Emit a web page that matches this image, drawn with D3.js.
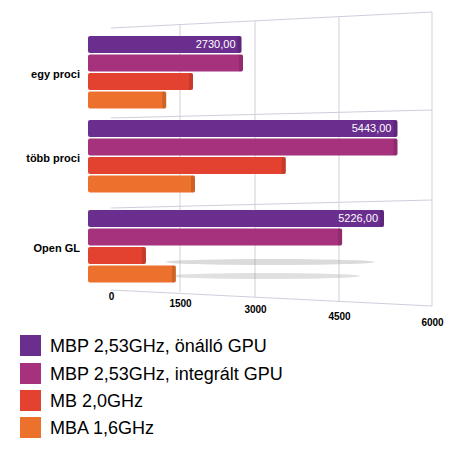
<!DOCTYPE html>
<html><head><meta charset="utf-8">
<script src="https://cdn.jsdelivr.net/npm/d3@7/dist/d3.min.js"></script>
<style>body{margin:0;background:#fff}text{font-family:"Liberation Sans",Arial,sans-serif}</style>
</head><body>
<svg id="c" width="459" height="449"></svg>
<script>
// Data
const categories = ['egy proci', 'több proci', 'Open GL'];
const series = ['MBP 2,53GHz, önálló GPU', 'MBP 2,53GHz, integrált GPU', 'MB 2,0GHz', 'MBA 1,6GHz'];
const values = [
    [2730, 5443, 5226],
    [2760, 5443, 4550],
    [1760, 3550, 760],
    [1200, 1800, 1410]
];
const ticks = [0, 1500, 3000, 4500, 6000];
const colors = ['#6a2e8e', '#a6317d', '#e2422f', '#ec712c'];

const svg = d3.select('#c');
// perspective-ish scale: gridlines spread out to the right
const x = d3.scaleLinear().domain(ticks).range([111, 180, 255, 339, 432]);
const barStart = 88;
const groupTop = [36, 120, 210];
const barH = 17, barStep = 18.5;

// grid plane
const grid = svg.append('g').attr('stroke', '#cfcfdc').attr('fill', 'none');
grid.append('path').attr('d', 'M111,28 L432,12 L432,306 L111,290');
grid.selectAll('line.h').data([118, 208]).enter().append('line')
    .attr('x1', 111).attr('x2', 432).attr('y1', d => d).attr('y2', d => d - 8);
grid.selectAll('line.v').data(ticks.slice(1, 4)).enter().append('line')
    .attr('x1', d => x(d)).attr('x2', d => x(d))
    .attr('y1', (d, i) => 25 - i * 4).attr('y2', (d, i) => 292 + i * 5);

// shadow under Open GL
svg.append('ellipse').attr('cx', 270).attr('cy', 262).attr('rx', 105).attr('ry', 3)
    .attr('fill', '#999').attr('opacity', 0.35);
svg.append('ellipse').attr('cx', 265).attr('cy', 276).attr('rx', 95).attr('ry', 3)
    .attr('fill', '#999').attr('opacity', 0.3);

// bars
categories.forEach((cat, ci) => {
    series.forEach((s, si) => {
        const v = values[si][ci];
        const y = groupTop[ci] + si * barStep;
        svg.append('rect').attr('x', barStart).attr('y', y)
            .attr('width', x(v) - barStart).attr('height', barH)
            .attr('rx', 2).attr('fill', colors[si]);
        svg.append('rect').attr('x', x(v) - 4).attr('y', y)
            .attr('width', 4).attr('height', barH).attr('fill', '#000').attr('opacity', 0.12);
    });
    svg.append('text').attr('x', 80).attr('y', groupTop[ci] + 42)
        .attr('text-anchor', 'end').attr('font-size', 11).attr('font-weight', 'bold')
        .text(cat);
});

// value labels (on the first series)
categories.forEach((cat, ci) => {
    const v = values[0][ci];
    svg.append('text').attr('x', x(v) - 6).attr('y', groupTop[ci] + 12)
        .attr('text-anchor', 'end').attr('fill', '#fff').attr('font-size', 11)
        .text(d3.format('.2f')(v).replace('.', ','));
});

// axis
const axis = svg.append('g').attr('transform', 'translate(0,300)')
    .call(d3.axisBottom(x).tickValues(ticks).tickSize(0).tickFormat(d3.format('d')));
axis.select('.domain').remove();
axis.selectAll('.tick text').attr('font-size', 10).attr('font-weight', 'bold')
    .attr('font-family', '"Liberation Sans",Arial,sans-serif').attr('fill', '#000')
    .attr('dy', (d, i) => (i * 6.5 - 3) + 'px');

// legend
const leg = svg.append('g');
const legY = [335, 363, 390, 417];
series.forEach((s, i) => {
    leg.append('rect').attr('x', 20).attr('y', legY[i]).attr('width', 21).attr('height', 21).attr('fill', colors[i]);
    leg.append('text').attr('x', 50).attr('y', legY[i] + 17).attr('font-size', 18).text(s);
});
</script>
</body></html>
